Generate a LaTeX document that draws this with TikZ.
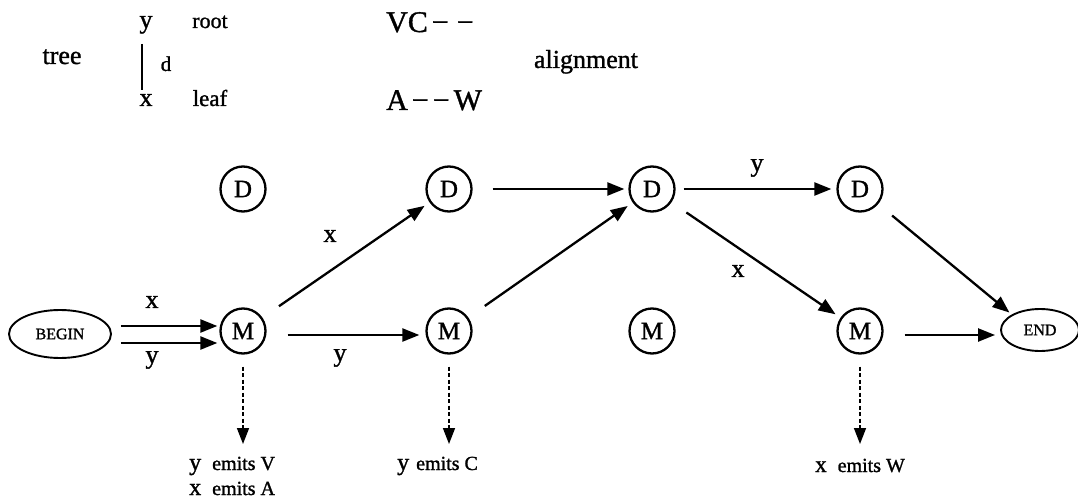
\documentclass[tikz,border=0pt]{standalone}
\usepackage{fontspec}
\setmainfont{Liberation Serif}[FakeBold=1.2]
\usetikzlibrary{arrows.meta,shapes.geometric,calc}
\newcommand{\fs}[1]{\fontsize{#1}{#1}\selectfont}
\begin{document}
\begin{tikzpicture}[x=1pt,y=-1pt,
  state/.style={circle,draw,line width=2.3pt,minimum size=45pt,inner sep=0pt,font=\fs{25}},
  term/.style={ellipse,draw,line width=1.9pt,inner sep=0pt,font=\fs{16}},
  arr/.style={line width=2.3pt,-{Triangle[length=17pt,width=13pt]}},
  darr/.style={line width=1.6pt,dash pattern=on 4pt off 2.5pt,-{Triangle[length=16pt,width=12pt]}},
  lab/.style={font=\fs{26},inner sep=0pt},
  sm/.style={inner sep=0pt,anchor=base west}]
\useasboundingbox (0,0) rectangle (1078,500);
% header
\node[inner sep=0pt,font=\fs{26},anchor=base] (tree) at (62,64) {tree};
\node[lab,anchor=base] (ty) at (146,28) {y};
\node[lab,anchor=base] (tx) at (146,106) {x};
\coordinate (ltop) at (142,44);
\coordinate (lbot) at (142,90);
\draw[line width=2.8pt] (ltop) -- (lbot);
\node[inner sep=0pt,font=\fs{21},anchor=base] (td) at (166,71) {d};
\node[inner sep=0pt,font=\fs{22},anchor=base] (troot) at (210,28) {root};
\node[inner sep=0pt,font=\fs{23},anchor=base] (tleaf) at (210,106) {leaf};
\node[inner sep=0pt,font=\fs{30},anchor=base west] (al1) at (386,32) {VC\kern4pt−\kern8pt−};
\node[inner sep=0pt,font=\fs{30},anchor=base west] (al2) at (386,110) {A\kern4pt−\kern4pt−\kern4pt W};
\node[inner sep=0pt,font=\fs{26},anchor=base] (aln) at (586,68) {alignment};
% states
\node[state] (D1) at (243,189) {D};
\node[state] (D2) at (449,189) {D};
\node[state] (D3) at (652,189) {D};
\node[state] (D4) at (860,189) {D};
\node[state] (M1) at (243,331) {M};
\node[state] (M2) at (449,331) {M};
\node[state] (M3) at (652,331) {M};
\node[state] (M4) at (860,331) {M};
\node[term,minimum width=102pt,minimum height=48pt] (B) at (60,334) {BEGIN};
\node[term,minimum width=78pt,minimum height=42pt] (E) at (1040,330) {END};
% edges
\draw[arr,shorten <=9pt,shorten >=2pt] ([yshift=8pt]B.east) -- ([yshift=8pt]B.east -| M1.west);
\draw[arr,shorten <=9pt,shorten >=2pt] ([yshift=-9pt]B.east) -- ([yshift=-9pt]B.east -| M1.west);
\node[lab] at (152,302) {x};
\node[lab] at (152,360) {y};
\draw[arr,shorten <=20pt,shorten >=6pt] (M1) -- (D2);
\node[lab] at (330,236) {x};
\draw[arr,shorten <=21pt,shorten >=6pt] ([yshift=-4pt]M1.east) -- ([yshift=-4pt]M2.west);
\node[lab] at (340,358) {y};
\draw[arr,shorten <=20pt,shorten >=6pt] (M2) -- (D3);
\draw[arr,shorten <=20pt,shorten >=4pt] (D2) -- (D3);
\draw[arr,shorten <=8pt,shorten >=5pt] (D3) -- (D4);
\node[lab] at (757,168) {y};
\draw[arr,shorten <=18pt,shorten >=6pt] (D3) -- (M4);
\node[lab] at (738,271) {x};
\draw[arr,shorten <=18pt,shorten >=3pt] (D4) -- (E.north west);
\draw[arr,shorten <=21pt,shorten >=5pt] ([yshift=-4pt]M4.east) -- ([yshift=-4pt]M4.east -| E.west);
% emissions
\coordinate (e1) at (243,444);
\coordinate (e2) at (449,444);
\coordinate (e4) at (860,444);
\draw[darr,shorten <=12pt] (M1) -- (e1);
\draw[darr,shorten <=12pt] (M2) -- (e2);
\draw[darr,shorten <=12pt] (M4) -- (e4);
\node[sm] (t1) at (189,470) {{\fs{24}y}\hspace{11pt}{\fs{20}emits V}};
\node[sm] (t2) at (189,495) {{\fs{24}x}\hspace{11pt}{\fs{20}emits A}};
\node[sm] (t3) at (397,470) {{\fs{24}y}\hspace{7pt}{\fs{20}emits C}};
\node[sm] (t4) at (815,472) {{\fs{23}x}\hspace{11pt}{\fs{20}emits W}};
\end{tikzpicture}
\end{document}
